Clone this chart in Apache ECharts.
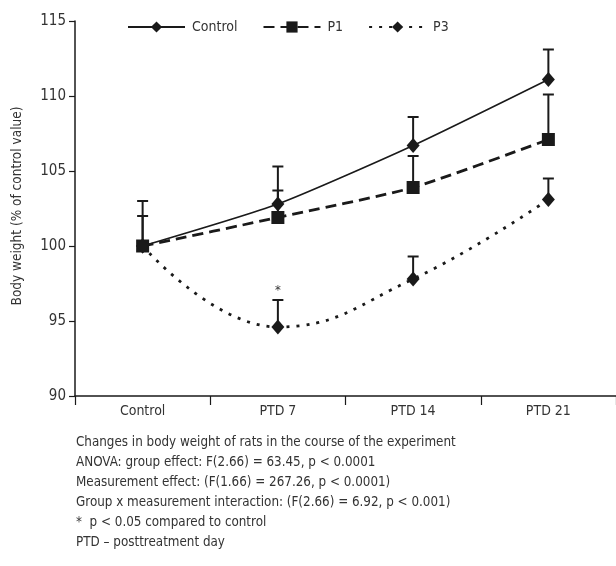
<!DOCTYPE html>
<html>
<head>
<meta charset="utf-8">
<script src="https://cdn.jsdelivr.net/npm/echarts@6/dist/echarts.min.js"></script>
<style>
html,body{margin:0;padding:0;background:#fff;}
#chart{width:616px;height:566px;}
</style>
</head>
<body>
<div id="chart"></div>
<script>
var categories = ["Control", "PTD 7", "PTD 14", "PTD 21"];
var controlMean = [100, 102.8, 106.7, 111.1];
var controlUpper = [103, 105.3, 108.6, 113.1];
var p1Mean = [100, 101.9, 103.9, 107.1];
var p1Upper = [102, 103.7, 106.0, 110.1];
var p3Mean = [100, 94.6, 97.8, 103.1];
var p3Upper = [null, 96.4, 99.3, 104.5];
var p3Significance = ["", "*", "", ""];
var yTicks = [90, 95, 100, 105, 110, 115];
var yTitle = "Body weight (% of control value)";
var notes = [
  "Changes in body weight of rats in the course of the experiment",
  "ANOVA: group effect: F(2.66) = 63.45, p < 0.0001",
  "Measurement effect: (F(1.66) = 267.26, p < 0.0001)",
  "Group x measurement interaction: (F(2.66) = 6.92, p < 0.001)",
  "*  p < 0.05 compared to control",
  "PTD \u2013 posttreatment day"
];

var FONT = "'Liberation Sans Narrow', 'DejaVu Sans Condensed', 'Roboto', sans-serif";
var INK = "#1a1a1a";
var TXT = "#333";

function errData(mean, upper, marks) {
  var out = [];
  for (var i = 0; i < mean.length; i++) {
    if (upper[i] == null) continue;
    out.push([i, mean[i], upper[i], marks ? marks[i] : ""]);
  }
  return out;
}

function errRender(params, api) {
  var x = api.value(0), v = api.value(1), u = api.value(2);
  var mark = api.value(3);
  var p0 = api.coord([x, v]);
  var p1 = api.coord([x, u]);
  var children = [
    {type: 'line', shape: {x1: p0[0], y1: p0[1], x2: p1[0], y2: p1[1]}, style: {stroke: INK, lineWidth: 2}},
    {type: 'line', shape: {x1: p1[0] - 5.5, y1: p1[1], x2: p1[0] + 5.5, y2: p1[1]}, style: {stroke: INK, lineWidth: 2}}
  ];
  if (mark) {
    children.push({type: 'text', x: p1[0], y: p1[1] - 9,
      style: {text: mark, fill: TXT, font: "13px " + FONT, align: 'center', verticalAlign: 'middle'}});
  }
  return {type: 'group', children: children};
}

var chart = echarts.init(document.getElementById('chart'), null, {renderer: 'canvas'});

var graphics = [{
  type: 'text', x: 17, y: 206, rotation: Math.PI / 2, z: 10,
  style: {text: yTitle, fill: TXT, font: "13.5px " + FONT, align: 'center', verticalAlign: 'middle'}
}];
notes.forEach(function (t, i) {
  graphics.push({type: 'text', x: 76, y: 443 + i * 20,
    style: {text: t, fill: TXT, font: "13.3px " + FONT, verticalAlign: 'middle'}});
});

chart.setOption({
  animation: false,
  backgroundColor: '#fff',
  textStyle: {fontFamily: FONT},
  legend: {
    left: 122, top: 15,
    itemWidth: 57, itemHeight: 14, itemGap: 25,
    textStyle: {color: TXT, fontSize: 14, fontFamily: FONT, padding: [0, 0, 0, 2]},
    data: ['Control', 'P1', 'P3']
  },
  grid: {left: 75, top: 21, width: 550, bottom: 170, containLabel: false},
  xAxis: {
    type: 'category', data: categories, boundaryGap: true,
    axisLine: {lineStyle: {color: INK, width: 1.5}},
    axisTick: {show: true, length: 9, lineStyle: {color: INK, width: 1.2}},
    axisLabel: {color: TXT, fontSize: 14, fontFamily: FONT, margin: 8},
    splitLine: {show: false}
  },
  yAxis: {
    type: 'value', min: 90, max: 115, interval: 5,
    axisLine: {show: true, lineStyle: {color: INK, width: 1.5}},
    axisTick: {show: true, length: 6, lineStyle: {color: INK, width: 1.2}},
    axisLabel: {color: TXT, fontSize: 15, fontFamily: FONT, margin: 9,
      formatter: function (v) { return yTicks.indexOf(v) >= 0 ? String(v) : ''; }},
    splitLine: {show: false}
  },
  graphic: graphics,
  series: [
    {type: 'custom', name: 'errC', renderItem: errRender, data: errData(controlMean, controlUpper), z: 1, silent: true},
    {type: 'custom', name: 'errP1', renderItem: errRender, data: errData(p1Mean, p1Upper), z: 1, silent: true},
    {type: 'custom', name: 'errP3', renderItem: errRender, data: errData(p3Mean, p3Upper, p3Significance), z: 1, silent: true},
    {
      name: 'Control', type: 'line', data: controlMean, smooth: 0.2,
      symbol: 'diamond', symbolSize: [13, 15],
      lineStyle: {color: INK, width: 1.6, type: 'solid'},
      itemStyle: {color: INK}, z: 3
    },
    {
      name: 'P1', type: 'line', data: p1Mean, smooth: 0.2,
      symbol: 'rect', symbolSize: 13,
      lineStyle: {color: INK, width: 2.8, type: [11, 6]},
      itemStyle: {color: INK}, z: 3
    },
    {
      name: 'P3', type: 'line', data: p3Mean, smooth: 0.45,
      symbol: 'diamond', symbolSize: [13, 15],
      lineStyle: {color: INK, width: 2.8, type: [3, 7]},
      itemStyle: {color: INK}, z: 3
    }
  ]
});
</script>
</body>
</html>
